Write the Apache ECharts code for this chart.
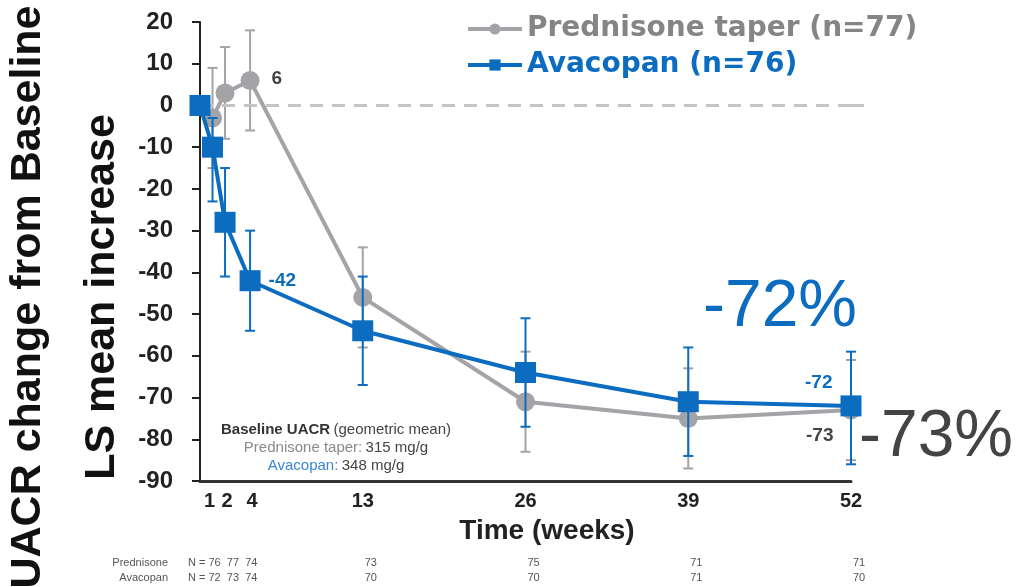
<!DOCTYPE html>
<html>
<head>
<meta charset="utf-8">
<script src="https://cdn.jsdelivr.net/npm/echarts@6/dist/echarts.min.js"></script>
<style>html,body{margin:0;padding:0;background:#fff}#c{width:1020px;height:587px}</style>
</head>
<body>
<div id="c"></div>
<script>
var weeks = [0, 1, 2, 4, 13, 26, 39, 52];
var weekTicks = [1, 2, 4, 13, 26, 39, 52];
var predMean = [0, -3, 3, 6, -46, -71, -75, -73];
var predLow = [null, -15, -8, -6, -58, -83, -87, -85];
var predHigh = [null, 9, 14, 18, -34, -59, -63, -61];
var avaMean = [0, -10, -28, -42, -54, -64, -71, -72];
var avaLow = [null, -23, -41, -54, -67, -77, -84, -86];
var avaHigh = [null, -3, -15, -30, -41, -51, -58, -59];
var nWeeks = [13, 26, 39, 52];
var nPredEarly = 'N = 76  77  74';
var nAvaEarly = 'N = 72  73  74';
var nPred = [73, 75, 71, 71];
var nAva = [70, 70, 71, 70];
var labelPred = {4: '6', 52: '-73'};
var labelAva = {4: '-42', 52: '-72'};

var GRAY = '#a3a3a8', BLUE = '#0b6cc0', DARK = '#444444';
var SANS = 'Liberation Sans, Arial, sans-serif';

function pairs(means) { return weeks.map(function (w, i) { return [w, means[i]]; }); }
function errs(lo, hi) {
  var out = [];
  weeks.forEach(function (w, i) { if (lo[i] !== null) out.push([w, lo[i], hi[i]]); });
  return out;
}
function errRender(color) {
  return function (params, api) {
    var x = api.value(0);
    var a = api.coord([x, api.value(2)]);
    var b = api.coord([x, api.value(1)]);
    var cw = 5;
    var st = {stroke: color, lineWidth: 2};
    return {type: 'group', children: [
      {type: 'line', shape: {x1: a[0], y1: a[1], x2: b[0], y2: b[1]}, style: st},
      {type: 'line', shape: {x1: a[0] - cw, y1: a[1], x2: a[0] + cw, y2: a[1]}, style: st},
      {type: 'line', shape: {x1: b[0] - cw, y1: b[1], x2: b[0] + cw, y2: b[1]}, style: st}
    ]};
  };
}

var chart = echarts.init(document.getElementById('c'), null, {renderer: 'canvas'});
var option = {
  animation: false,
  backgroundColor: '#fff',
  grid: {left: 200, right: 169, top: 22, bottom: 106},
  legend: {
    orient: 'vertical', left: 466, top: 11, itemGap: 0, padding: 0,
    itemWidth: 54, itemHeight: 14,
    lineStyle: {width: 4},
    textStyle: {fontFamily: 'DejaVu Sans', fontWeight: 'bold', fontSize: 28, lineHeight: 36},
    data: [
      {name: 'Prednisone taper (n=77)', textStyle: {color: '#858585'}},
      {name: 'Avacopan (n=76)', textStyle: {color: BLUE}}
    ]
  },
  xAxis: {
    type: 'value', min: 0, max: 52,
    axisLine: {show: true, onZero: false, lineStyle: {color: '#333', width: 3}},
    axisTick: {show: false},
    splitLine: {show: false},
    axisLabel: {
      customValues: weekTicks, margin: 10,
      fontFamily: SANS, fontWeight: 'bold', fontSize: 20, color: '#222',
      formatter: function (v) {
        if (v === 1) return '{l|1}';
        if (v === 2) return '{m|2}';
        if (v === 4) return '{r|4}';
        return String(v);
      },
      rich: {
        l: {fontFamily: SANS, fontWeight: 'bold', fontSize: 20, color: '#222', padding: [0, 6, 0, 0]},
        m: {fontFamily: SANS, fontWeight: 'bold', fontSize: 20, color: '#222', padding: [0, 0, 0, 4]},
        r: {fontFamily: SANS, fontWeight: 'bold', fontSize: 20, color: '#222', padding: [0, 0, 0, 4]}
      }
    }
  },
  yAxis: {
    type: 'value', min: -90, max: 20, interval: 10,
    axisLine: {show: true, lineStyle: {color: '#222', width: 2}},
    axisTick: {show: true, length: 8, lineStyle: {color: '#222', width: 2}},
    splitLine: {show: false},
    axisLabel: {margin: 27, fontFamily: SANS, fontWeight: 'bold', fontSize: 24, color: '#222'}
  },
  series: [
    {
      type: 'custom', name: 'predErr', z: 2, silent: true,
      renderItem: errRender(GRAY), data: errs(predLow, predHigh), encode: {x: 0, y: [1, 2]}
    },
    {
      type: 'line', name: 'Prednisone taper (n=77)', z: 3,
      data: pairs(predMean), symbol: 'circle', symbolSize: 19,
      lineStyle: {color: GRAY, width: 4}, itemStyle: {color: GRAY},
      label: {
        show: true, position: 'right', distance: 12, color: DARK,
        fontFamily: SANS, fontWeight: 'bold', fontSize: 19,
        formatter: function (p) { return labelPred[p.value[0]] || ''; }
      },
      labelLayout: function (p) {
        if (p.dataIndex === 7) return {x: p.rect.x - 8, y: p.rect.y + 26, align: 'right'};
        if (p.dataIndex === 3) return {y: p.rect.y - 2};
        return {};
      },
      markLine: {
        silent: true, symbol: 'none', label: {show: false},
        lineStyle: {color: '#c4c4c4', width: 3, type: [13, 9]},
        data: [{yAxis: 0}]
      }
    },
    {
      type: 'custom', name: 'avaErr', z: 4, silent: true,
      renderItem: errRender(BLUE), data: errs(avaLow, avaHigh), encode: {x: 0, y: [1, 2]}
    },
    {
      type: 'line', name: 'Avacopan (n=76)', z: 5,
      data: pairs(avaMean), symbol: 'rect', symbolSize: 21,
      lineStyle: {color: BLUE, width: 4}, itemStyle: {color: BLUE},
      label: {
        show: true, position: 'right', distance: 8, color: BLUE,
        fontFamily: SANS, fontWeight: 'bold', fontSize: 19,
        formatter: function (p) { return labelAva[p.value[0]] || ''; }
      },
      labelLayout: function (p) {
        if (p.dataIndex === 7) return {x: p.rect.x - 8, y: p.rect.y - 22, align: 'right'};
        return {};
      }
    }
  ]
};
chart.setOption(option);

function px(w) { return chart.convertToPixel({xAxisIndex: 0}, w); }
var g = [];
g.push({type: 'text', x: 28, y: 297, rotation: Math.PI / 2, style: {text: 'UACR change from Baseline', fontFamily: SANS, fontWeight: 'bold', fontSize: 43, fill: '#111', align: 'center', verticalAlign: 'middle'}});
g.push({type: 'text', x: 102, y: 297, rotation: Math.PI / 2, style: {text: 'LS mean increase', fontFamily: SANS, fontWeight: 'bold', fontSize: 43, fill: '#111', align: 'center', verticalAlign: 'middle'}});
g.push({type: 'text', x: 547, y: 531, style: {text: 'Time (weeks)', fontFamily: SANS, fontWeight: 'bold', fontSize: 28, fill: '#222', align: 'center', verticalAlign: 'middle'}});
g.push({type: 'text', x: 780, y: 308, style: {text: '-72%', fontFamily: SANS, fontSize: 66, fill: BLUE, align: 'center', verticalAlign: 'middle'}});
g.push({type: 'text', x: 936, y: 438, style: {text: '-73%', fontFamily: SANS, fontSize: 66, fill: DARK, align: 'center', verticalAlign: 'middle'}});
g.push({type: 'line', z: 1, shape: {x1: px(52), y1: chart.convertToPixel({yAxisIndex: 0}, 0), x2: px(52) + 20, y2: chart.convertToPixel({yAxisIndex: 0}, 0)}, style: {stroke: '#c4c4c4', lineWidth: 3, lineDash: [13, 9]}});
g.push({type: 'text', x: 336, y: 430, style: {
  text: '{b|Baseline UACR} {n|(geometric mean)}', align: 'center', verticalAlign: 'middle',
  rich: {b: {fontFamily: SANS, fontWeight: 'bold', fontSize: 15, fill: '#333'}, n: {fontFamily: SANS, fontSize: 15, fill: '#444'}}
}});
g.push({type: 'text', x: 336, y: 448, style: {
  text: '{g|Prednisone taper:} {d|315 mg/g}', align: 'center', verticalAlign: 'middle',
  rich: {g: {fontFamily: SANS, fontSize: 15, fill: '#8a8a8a'}, d: {fontFamily: SANS, fontSize: 15, fill: '#444'}}
}});
g.push({type: 'text', x: 336, y: 466, style: {
  text: '{bl|Avacopan:} {d|348 mg/g}', align: 'center', verticalAlign: 'middle',
  rich: {bl: {fontFamily: SANS, fontSize: 15, fill: '#3a86d0'}, d: {fontFamily: SANS, fontSize: 15, fill: '#444'}}
}});
var small = {fontFamily: 'Liberation Sans Narrow, Arial Narrow, sans-serif', fontSize: 11, fill: '#555', verticalAlign: 'middle'};
function st(o) { var r = {}; for (var k in small) r[k] = small[k]; for (var k2 in o) r[k2] = o[k2]; return r; }
g.push({type: 'text', x: 168, y: 563, style: st({text: 'Prednisone', align: 'right'})});
g.push({type: 'text', x: 168, y: 578, style: st({text: 'Avacopan', align: 'right'})});
g.push({type: 'text', x: 188, y: 563, style: st({text: nPredEarly, align: 'left'})});
g.push({type: 'text', x: 188, y: 578, style: st({text: nAvaEarly, align: 'left'})});
nWeeks.forEach(function (w, i) {
  var x = px(w) + 8;
  g.push({type: 'text', x: x, y: 563, style: st({text: String(nPred[i]), align: 'center'})});
  g.push({type: 'text', x: x, y: 578, style: st({text: String(nAva[i]), align: 'center'})});
});
chart.setOption({graphic: g});
</script>
</body>
</html>
